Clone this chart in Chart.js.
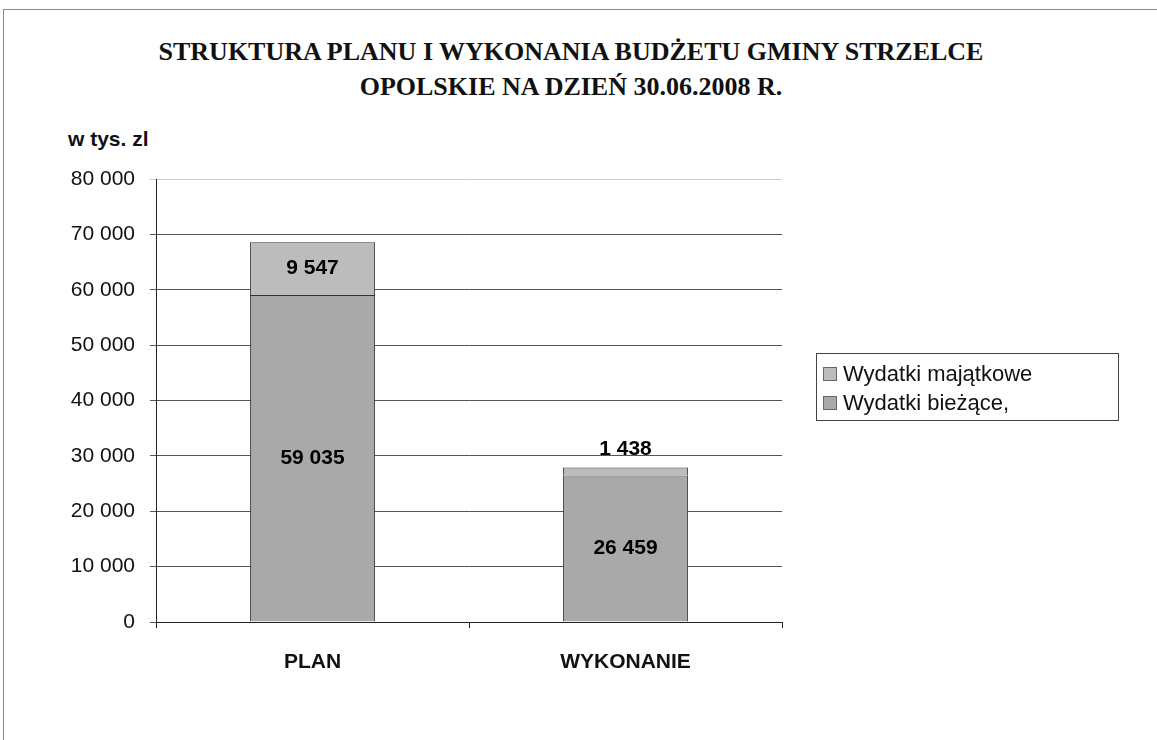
<!DOCTYPE html>
<html>
<head>
<meta charset="utf-8">
<script src="https://cdn.jsdelivr.net/npm/chart.js@4"></script>
<style>
    html, body { margin: 0; padding: 0; background: #fff; }
    #page { position: relative; width: 1157px; height: 740px; overflow: hidden; }
    #frame { position: absolute; left: 3px; top: 9px; width: 1160px; height: 740px;
             border-top: 1px solid #8a8a8a; border-left: 1px solid #8a8a8a; }
    #title { position: absolute; left: 0; top: 34px; width: 1142px; text-align: center;
             font: bold 26px "Liberation Serif", "Times New Roman", serif; line-height: 35px; color: #111; }
    #unit { position: absolute; left: 68px; top: 127px; font: bold 21px "Liberation Sans", Arial, sans-serif; color: #111; }
    #legend { position: absolute; left: 816px; top: 353px; width: 301px; height: 66px;
              border: 1px solid #444; font: 22px "Liberation Sans", Arial, sans-serif; color: #111; }
    #legend div { position: absolute; left: 6px; white-space: nowrap; line-height: 26px; }
    #legend span { display: inline-block; width: 12px; height: 12px; border: 1px solid #666;
                   margin-right: 6px; vertical-align: 0px; }
    canvas { position: absolute; left: 0; top: 0; }
</style>
</head>
<body>
<div id="page">
    <div id="frame"></div>
    <div id="title">STRUKTURA PLANU I WYKONANIA BUDŻETU GMINY STRZELCE<br>OPOLSKIE NA DZIEŃ 30.06.2008 R.</div>
    <div id="unit">w tys. zl</div>
    <canvas id="budgetChart" width="1157" height="740"></canvas>
    <div id="legend"></div>
</div>
<script>
    // --- data (w tys. zl) ---
    const categories = ["PLAN", "WYKONANIE"];
    const wydatkiBiezace = [59035, 26459];
    const wydatkiMajatkowe = [9547, 1438];
    const yTicks = [0, 10000, 20000, 30000, 40000, 50000, 60000, 70000, 80000];

    const colBiezace = "#a9a9a9";
    const colMajatkowe = "#bcbcbc";

    function fmt(v) {
        return String(v).replace(/\B(?=(\d{3})+(?!\d))/g, " ");
    }

    // legend (Excel lists top series first)
    document.getElementById("legend").innerHTML = `
        <div style="top:7px"><span style="background:${colMajatkowe}"></span>Wydatki majątkowe</div>
        <div style="top:36px"><span style="background:${colBiezace}"></span>Wydatki bieżące,</div>
    `;

    // value labels in each segment; tiny segments get lifted above the bar
    const segmentLabels = {
        id: "segmentLabels",
        afterDatasetsDraw(chart) {
            const ctx = chart.ctx;
            ctx.save();
            ctx.font = "bold 21px 'Liberation Sans', Arial, sans-serif";
            ctx.fillStyle = "#000";
            ctx.textAlign = "center";
            ctx.textBaseline = "middle";
            chart.data.datasets.forEach((ds, di) => {
                const meta = chart.getDatasetMeta(di);
                meta.data.forEach((bar, i) => {
                    const h = Math.abs(bar.base - bar.y);
                    let ty = (bar.y + bar.base) / 2;
                    if (h < 20) ty = bar.y - 18;
                    ctx.fillText(fmt(ds.data[i]), bar.x, ty);
                });
            });
            ctx.restore();
        }
    };

    new Chart(document.getElementById("budgetChart"), {
        type: "bar",
        data: {
            labels: categories,
            datasets: [
                { label: "Wydatki bieżące,", data: wydatkiBiezace, backgroundColor: colBiezace,
                  borderColor: "#333", borderWidth: 1, categoryPercentage: 1, barPercentage: 0.4 },
                { label: "Wydatki majątkowe", data: wydatkiMajatkowe, backgroundColor: colMajatkowe,
                  borderColor: "#333", borderWidth: 1, categoryPercentage: 1, barPercentage: 0.4 },
            ],
        },
        options: {
            responsive: false,
            animation: false,
            layout: { padding: { top: 179, left: 0, right: 375, bottom: 0 } },
            plugins: { legend: { display: false }, tooltip: { enabled: false } },
            scales: {
                x: {
                    stacked: true,
                    afterFit: (s) => { s.height = 118; },
                    grid: { display: true, drawOnChartArea: false, offset: true, tickLength: 6, color: "#222" },
                    border: { color: "#222" },
                    ticks: { padding: 22, color: "#111", font: { family: "'Liberation Sans', Arial, sans-serif", size: 21, weight: "bold" } },
                },
                y: {
                    stacked: true,
                    min: 0,
                    max: 80000,
                    afterFit: (s) => { s.width = 156; },
                    afterBuildTicks: (s) => { s.ticks = yTicks.map((v) => ({ value: v })); },
                    grid: {
                        tickLength: 6,
                        color: (c) => (c.tick && c.tick.value === 80000 ? "#cfcfcf" : "#555"),
                    },
                    border: { color: "#222" },
                    ticks: {
                        padding: 15,
                        color: "#111",
                        font: { family: "'Liberation Sans', Arial, sans-serif", size: 21 },
                        callback: (v) => fmt(v),
                    },
                },
            },
        },
        plugins: [segmentLabels],
    });
</script>
</body>
</html>
